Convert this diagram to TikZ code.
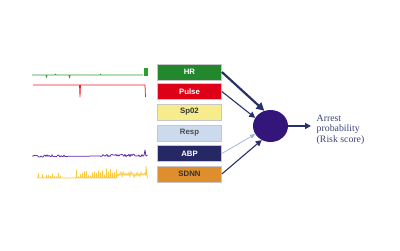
\documentclass[tikz,border=0pt]{standalone}
\usepackage{fontspec}
\setmainfont{Liberation Serif}
\newfontfamily\boxfont{Liberation Sans}
\usetikzlibrary{arrows.meta,shapes.geometric}

\definecolor{hrgreen}{RGB}{34,135,45}
\definecolor{pulsered}{RGB}{222,0,22}
\definecolor{spyellow}{RGB}{246,236,140}
\definecolor{respblue}{RGB}{204,218,238}
\definecolor{abpnavy}{RGB}{38,40,102}
\definecolor{sdnnorange}{RGB}{222,142,44}
\definecolor{nodeindigo}{RGB}{52,22,122}
\definecolor{arrownavy}{RGB}{40,50,105}
\definecolor{arrowpale}{RGB}{160,178,205}
\definecolor{outtext}{RGB}{60,70,120}
\definecolor{sigpurple}{RGB}{100,40,170}
\definecolor{sigyellow}{RGB}{250,200,60}
\definecolor{siggreen}{RGB}{40,160,50}
\definecolor{sigred}{RGB}{235,30,40}

\tikzset{
  vbox/.style={draw=black!22, line width=0.7pt, minimum width=64pt, minimum height=16pt,
    inner sep=0pt, font=\boxfont\bfseries\fontsize{7.8}{9}\selectfont},
  feed/.style={draw=arrownavy, -{Triangle[length=6pt,width=6pt]}},
  signal/.style={line width=0.75pt, line join=round},
}

\begin{document}
\begin{tikzpicture}[x=1pt,y=-1pt]
\useasboundingbox[fill=white] (0,0) rectangle (400,250);

% vital-sign inputs
\node[vbox, fill=hrgreen, text=white]      (hr)    at (189.5,72)  {HR};
\node[vbox, fill=pulsered, text=white]     (pulse) at (189.5,91.5) {Pulse};
\node[vbox, fill=spyellow, text=black!80]  (spo)   at (189.5,112) {Sp02};
\node[vbox, fill=respblue, text=black!70]  (resp)  at (189.5,133) {Resp};
\node[vbox, fill=abpnavy, text=white]      (abp)   at (189.5,153.5) {ABP};
\node[vbox, fill=sdnnorange, text=black!80](sdnn)  at (189.5,174) {SDNN};

% combining node
\node[ellipse, fill=nodeindigo, minimum width=35pt, minimum height=32pt, inner sep=0pt]
  (nn) at (270.5,126) {};

% weighted connections
\draw[feed, line width=2.2pt, -{Triangle[length=8pt,width=8pt]}] (hr.east) -- (nn.112);
\draw[feed, line width=1.1pt] (pulse.east) -- (nn.152);
\draw[feed, draw=arrowpale, line width=0.7pt, -{Triangle[length=5pt,width=4pt]}] (abp.east) -- (nn.208);
\draw[feed, line width=1.1pt] (sdnn.east) -- (nn.238);

% output
\coordinate (out) at (311,126);
\draw[feed, line width=1.5pt] (nn.east) -- (out);
\node[anchor=west, align=left, text=outtext, font=\fontsize{9.8}{10.5}\selectfont, inner sep=0pt]
  (risk) at (316.5,129.5) {Arrest\\probability\\(Risk score)};

% HR trace
\draw[signal, draw=siggreen] (32,75) -- (46,75) -- (46.5,77.5) -- (47,75) -- (55,75) -- (55.5,74)
  -- (56,75) -- (69,75) -- (69.5,78) -- (70,75) -- (100,75) -- (100.5,74.2) -- (101,75) -- (143,75);
\fill[siggreen] (143.5,67.5) rectangle (147.5,76);

% Pulse trace
\draw[signal, draw=sigred] (33,85) -- (79.5,85) -- (80,97) -- (80.5,85) -- (145,85) -- (145.5,97);

% ABP trace
\pgfmathsetseed{11}
\draw[signal, draw=sigpurple] (32,156)
  \foreach \x in {33,34,...,66} { -- (\x,{156+1.4*rand}) }
  -- (100,156)
  \foreach \x in {101,102,...,144} { -- (\x,{155.5+1.3*rand}) }
  -- (145,150) -- (146,156) -- (147.5,155);

% SDNN trace
\pgfmathsetseed{5}
\draw[signal, draw=sigyellow, line width=0.6pt] (37,178)
  \foreach \x in {38,40,...,60} { -- (\x,178) -- (\x+0.5,{178-5*rnd}) -- (\x+1,178) }
  -- (75,178)
  \foreach \x in {76,78,...,116} { -- (\x,178) -- (\x+0.5,{177-8*rnd}) -- (\x+1,178) }
  \foreach \x in {117,119,...,145} { -- (\x,{171+3*rnd}) -- (\x+1,{175+3*rnd}) }
  -- (146,166) -- (147.5,178);

\end{tikzpicture}
\end{document}
